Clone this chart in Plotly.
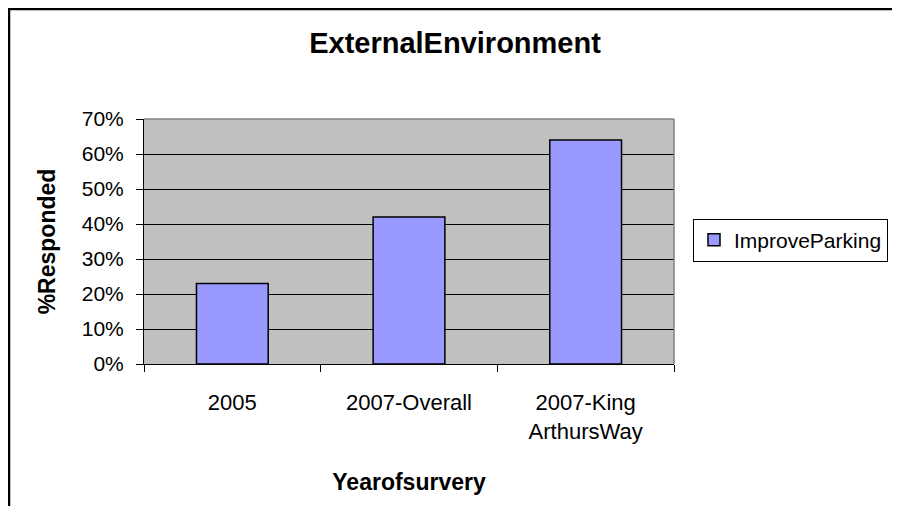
import plotly.graph_objects as go

categories = ["2005", "2007-Overall", "2007-King<br>ArthursWay"]
improve_parking = [0.23, 0.42, 0.64]
series_name = "ImproveParking"
y_ticks = [0, 0.1, 0.2, 0.3, 0.4, 0.5, 0.6, 0.7]

FONT = "Liberation Sans, Arial, sans-serif"
W, H = 884, 498
L, R, T, B = 136, 218, 111, 142
PW, PH = W - L - R, H - T - B

fig = go.Figure()
fig.add_trace(go.Bar(
    x=categories, y=improve_parking, name=series_name,
    marker=dict(color="#9999ff", line=dict(color="black", width=1.5)),
    showlegend=True,
))

fig.update_layout(
    width=W, height=H,
    margin=dict(l=L, r=R, t=T, b=B, autoexpand=False),
    paper_bgcolor="white", plot_bgcolor="#c0c0c0",
    bargap=0.594,
    font=dict(family=FONT, size=20, color="black"),
    title=dict(text="<b>ExternalEnvironment</b>", x=447 / W, xref="container",
               y=1 - 35 / H, yref="container", yanchor="middle", xanchor="center",
               font=dict(family=FONT, size=29, color="black")),
    showlegend=True,
    legend=dict(x=(685 - L) / PW, xanchor="left", y=(T + PH - 232) / PH, yanchor="middle",
                bordercolor="black", borderwidth=1, bgcolor="white",
                font=dict(family=FONT, size=21, color="black"),
                itemwidth=30),
    xaxis=dict(
        showline=True, linecolor="black", linewidth=1,
        ticks="outside", tickson="boundaries", ticklen=7, tickcolor="black",
        showgrid=False, ticklabelstandoff=19,
        title=dict(text="<b>Yearofsurvery</b>", font=dict(family=FONT, size=23), standoff=30),
        tickfont=dict(family=FONT, size=22),
    ),
    yaxis=dict(
        range=[0, 0.7], tickvals=y_ticks, tickformat=".0%",
        showline=True, linecolor="black", linewidth=1,
        ticks="outside", ticklen=7, tickcolor="black",
        showgrid=True, gridcolor="black", gridwidth=1,
        zeroline=False, ticklabelstandoff=8,
        title=dict(text="<b>%Responded</b>", font=dict(family=FONT, size=23), standoff=19),
        tickfont=dict(family=FONT, size=21),
    ),
    shapes=[
        dict(type="line", xref="paper", yref="paper", x0=0, x1=1, y0=1, y1=1,
             line=dict(color="#808080", width=1.5)),
        dict(type="line", xref="paper", yref="paper", x0=1, x1=1, y0=0, y1=1,
             line=dict(color="#808080", width=1.5)),
        dict(type="rect", xref="paper", yref="paper",
             x0=(1 - L) / PW, x1=1.8, y0=(PH + T - 1) / PH, y1=-1,
             line=dict(color="black", width=2.5), fillcolor="rgba(0,0,0,0)", layer="above"),
    ],
)

fig.write_html("out.html")
